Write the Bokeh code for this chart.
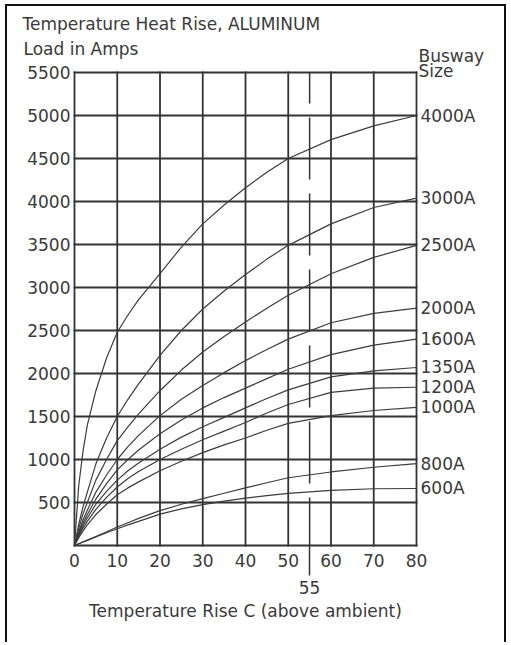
from bokeh.plotting import figure
from bokeh.models import FixedTicker, LinearAxis, ColumnDataSource, Range1d
from bokeh.core.properties import value
from bokeh.embed import file_html
from bokeh.resources import INLINE

# ---------------- data ----------------
temps = [0, 1, 2, 3, 5, 7.5, 10, 12.5, 15, 20, 25, 30, 35, 40, 45, 50, 60, 70, 80]
busway_sizes = ["4000A", "3000A", "2500A", "2000A", "1600A",
                "1350A", "1200A", "1000A", "800A", "600A"]
amps_4000 = [0, 700, 1100, 1400, 1800, 2180, 2480, 2680, 2860, 3160, 3470, 3740, 3960, 4160, 4340, 4500, 4720, 4880, 5000]
amps_3000 = [0, 250, 450, 620, 950, 1250, 1500, 1700, 1880, 2210, 2500, 2750, 2960, 3150, 3330, 3490, 3740, 3930, 4040]
amps_2500 = [0, 200, 370, 500, 760, 1000, 1220, 1380, 1530, 1800, 2040, 2250, 2430, 2600, 2760, 2910, 3160, 3350, 3490]
amps_2000 = [0, 160, 300, 410, 620, 820, 1000, 1150, 1280, 1510, 1700, 1860, 2010, 2150, 2280, 2400, 2590, 2700, 2760]
amps_1600 = [0, 140, 260, 360, 540, 720, 880, 1000, 1110, 1300, 1460, 1600, 1720, 1830, 1940, 2050, 2220, 2330, 2400]
amps_1350 = [0, 120, 230, 320, 480, 630, 760, 870, 960, 1120, 1260, 1380, 1490, 1600, 1710, 1810, 1960, 2030, 2070]
amps_1200 = [0, 110, 200, 280, 420, 560, 680, 780, 860, 1000, 1120, 1230, 1330, 1430, 1540, 1640, 1780, 1830, 1840]
amps_1000 = [0, 90, 170, 240, 360, 480, 590, 670, 740, 870, 980, 1080, 1170, 1250, 1340, 1420, 1510, 1570, 1605]
amps_800 = [0, 21, 42, 63, 105, 160, 215, 265, 315, 405, 480, 545, 608, 670, 730, 788, 855, 910, 953]
amps_600 = [0, 20, 40, 60, 100, 148, 195, 240, 280, 365, 425, 475, 515, 550, 580, 605, 640, 660, 663]
series = [amps_4000, amps_3000, amps_2500, amps_2000, amps_1600,
          amps_1350, amps_1200, amps_1000, amps_800, amps_600]

x_ticks = [0, 10, 20, 30, 40, 50, 60, 70, 80]
y_ticks = [500, 1000, 1500, 2000, 2500, 3000, 3500, 4000, 4500, 5000, 5500]
rated_rise = 55

title_text = "Temperature Heat Rise, ALUMINUM"
y_title = "Load in Amps"
x_title = "Temperature Rise C (above ambient)"
legend_title = ["Busway", "Size"]

# ---------------- layout (pixels on the canvas) ----------------
W, H = 501, 638
FL, FR, FT, FB = 67, 409, 66, 539      # edges of the chart grid box

FONT = "DejaVu Sans"
FS = "17px"
TXT = "#3a3a3a"
GRID = "#333333"
CURVE = "#3c3c3c"

xa, xb = x_ticks[0], x_ticks[-1]
ya, yb = 0, y_ticks[-1]
sx = (FR - FL) / (xb - xa)
sy = (FB - FT) / (yb - ya)

p = figure(width=W, height=H, title=None,
           x_range=Range1d(xa - FL / sx, xb + (W - FR) / sx),
           y_range=Range1d(ya - (H - FB) / sy, yb + FT / sy),
           output_backend="svg", toolbar_location=None,
           min_border_left=0, min_border_right=0,
           min_border_top=0, min_border_bottom=0)
p.background_fill_color = "white"
p.border_fill_color = "white"
p.outline_line_color = None
p.xgrid.visible = False
p.ygrid.visible = False
p.styles = {"margin-left": "5px", "margin-top": "4px",
            "border-left": "2px solid #111", "border-top": "2px solid #111",
            "border-right": "2px solid #111"}

# grid box
grid_y = [ya] + y_ticks
p.segment(x0=x_ticks, y0=[ya] * len(x_ticks), x1=x_ticks, y1=[yb] * len(x_ticks),
          line_color=GRID, line_width=1.8, line_cap="square")
p.segment(x0=[xa] * len(grid_y), y0=grid_y, x1=[xb] * len(grid_y), y1=grid_y,
          line_color=GRID, line_width=1.8, line_cap="square")

# dashed rated-rise line
p.segment(x0=[rated_rise], y0=[yb], x1=[rated_rise], y1=[ya],
          line_color=GRID, line_width=1.5, line_dash="62 14", line_dash_offset=31)

# y axis
yax = p.yaxis[0]
yax.fixed_location = xa
yax.bounds = (ya, yb)
yax.ticker = FixedTicker(ticks=y_ticks, minor_ticks=[])
yax.axis_line_color = None
yax.major_tick_line_color = None
yax.minor_tick_line_color = None
yax.major_tick_out = 0
yax.minor_tick_out = 0
yax.major_label_standoff = 4
yax.major_label_text_font = FONT
yax.major_label_text_font_size = FS
yax.major_label_text_color = TXT

# x axis (numbers)
xax = p.xaxis[0]
xax.fixed_location = ya
xax.bounds = (xa, xb)
xax.ticker = FixedTicker(ticks=x_ticks, minor_ticks=[])
xax.axis_line_color = None
xax.major_tick_line_color = None
xax.minor_tick_line_color = None
xax.major_tick_out = 0
xax.minor_tick_out = 0
xax.major_label_standoff = 8
xax.major_label_text_font = FONT
xax.major_label_text_font_size = FS
xax.major_label_text_color = TXT

# second x axis: 55 degree marker and the axis title
rise_axis = LinearAxis(fixed_location=ya, bounds=(xa, xb),
                       ticker=FixedTicker(ticks=[rated_rise], minor_ticks=[]),
                       axis_line_color=None,
                       major_tick_in=0, major_tick_out=30,
                       major_tick_line_color=GRID, major_tick_line_width=1.5,
                       minor_tick_line_color=None, minor_tick_out=0,
                       major_label_standoff=5,
                       major_label_text_font=FONT, major_label_text_font_size=FS,
                       major_label_text_color=TXT,
                       axis_label=x_title, axis_label_standoff=4,
                       axis_label_text_font=FONT, axis_label_text_font_size=FS,
                       axis_label_text_font_style="normal",
                       axis_label_text_color=TXT)
p.add_layout(rise_axis, "below")

# curves
for s in series:
    src = ColumnDataSource(dict(t=temps, a=s))
    p.line("t", "a", source=src, line_color=CURVE, line_width=1.2)

# curve labels at right end
lab_src = ColumnDataSource(dict(x=[temps[-1]] * len(series),
                                y=[s[-1] for s in series],
                                text=busway_sizes))
p.text(x="x", y="y", text="text", source=lab_src, x_offset=4,
       text_baseline="middle", text_align="left",
       text_font=value(FONT), text_font_size=value(FS), text_color=TXT)

# titles (anchored at the corners of the grid box, offsets in pixels)
head_src = ColumnDataSource(dict(
    x=[xa, xa, xb, xb], y=[yb] * 4,
    text=[title_text, y_title, legend_title[0], legend_title[1]],
    dx=[-52, -51, 2, 2], dy=[-49, -24, -17, -2]))
p.text(x="x", y="y", text="text", source=head_src, x_offset="dx", y_offset="dy",
       text_baseline="alphabetic", text_align="left",
       text_font=value(FONT), text_font_size=value(FS), text_color=TXT)

open("out.html", "w").write(file_html(p, INLINE))
